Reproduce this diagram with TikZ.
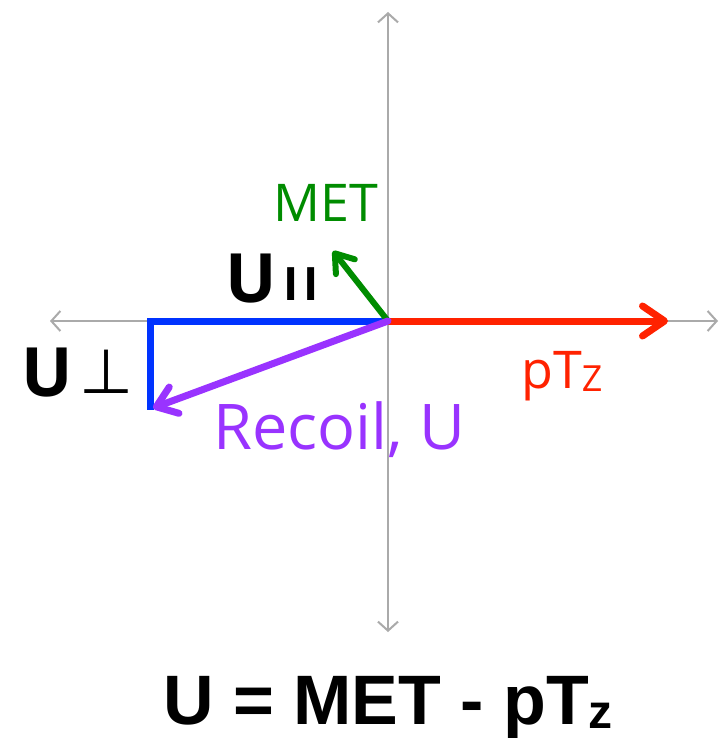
\documentclass[tikz,border=0pt]{standalone}
\usepackage{fontspec}
\setmainfont{Open Sans}
\newfontfamily\eqfont{Liberation Sans}
\newfontfamily\symfont{DejaVu Sans}
\usetikzlibrary{arrows.meta}
\definecolor{axisgray}{HTML}{AAAAAA}
\definecolor{ptred}{HTML}{FF2200}
\definecolor{metgreen}{HTML}{008C00}
\definecolor{ublue}{HTML}{0033FF}
\definecolor{upurple}{HTML}{9933FF}
\tikzset{
  axis/.style={draw=axisgray, line width=2pt, -{Straight Barb[length=9pt, width=20pt, line width=2pt]}},
  vec/.style={line width=7pt, line cap=round},
  lbl/.style={inner sep=0pt, anchor=base west},
}
\begin{document}
\begin{tikzpicture}[x=1pt, y=-1pt]
\useasboundingbox[fill=white] (0,0) rectangle (720,738);
\coordinate (O) at (388,321);
\coordinate (top) at (388,12);
\coordinate (bot) at (388,632);
\coordinate (left) at (50,321);
\coordinate (right) at (718,321);
\coordinate (ptz) at (668,321);
\coordinate (met) at (333,251);
\coordinate (corner) at (150,321);
\coordinate (perp) at (150,410);
\coordinate (rec) at (153,408);
% axes
\draw[axis] (O) -- (top);
\draw[axis] (O) -- (bot);
\draw[axis] (O) -- (left);
\draw[axis] (O) -- (right);
% vectors
\draw[vec, draw=ublue, line cap=butt] (O) -- (corner) -- (perp);
\draw[vec, draw=ptred, -{Straight Barb[length=22pt, width=30pt, line width=7pt, round]}] (O) -- (ptz);
\draw[vec, draw=metgreen, line width=6pt, -{Straight Barb[length=17pt, width=24pt, line width=6pt, round]}] (O) -- (met);
\draw[vec, draw=upurple, -{Straight Barb[length=19pt, width=28pt, line width=7pt, round]}] (O) -- (rec);
% labels
\node[lbl, text=metgreen, font=\fontsize{52}{52}\selectfont] (metlbl) at (273,221) {MET};
\node[lbl, text=ptred, font=\fontsize{52}{52}\selectfont] (ptlbl) at (521,388) {pT\raisebox{-3pt}{\fontsize{36}{36}\selectfont Z}};
\node[lbl, text=upurple, font=\fontsize{63}{63}\selectfont] (reclbl) at (213,449) {Recoil, U};
\node[lbl, font=\fontsize{68}{68}\selectfont\bfseries] (upar) at (225,302) {U};
\node[lbl, font=\fontsize{46}{46}\selectfont\bfseries] (parsym) at (283,300) {I\hspace{5pt}I};
\node[lbl, font=\fontsize{68}{68}\selectfont\bfseries] (uperp) at (21,396) {U};
\node[lbl, font=\fontsize{62}{62}\selectfont\symfont] (perpsym) at (79,393) {⊥};
\node[inner sep=0pt, anchor=base, font=\fontsize{70}{70}\selectfont\eqfont\bfseries] (eq) at (388,724) {U = MET - pT\raisebox{-4pt}{\fontsize{48}{48}\selectfont z}};
\end{tikzpicture}
\end{document}
